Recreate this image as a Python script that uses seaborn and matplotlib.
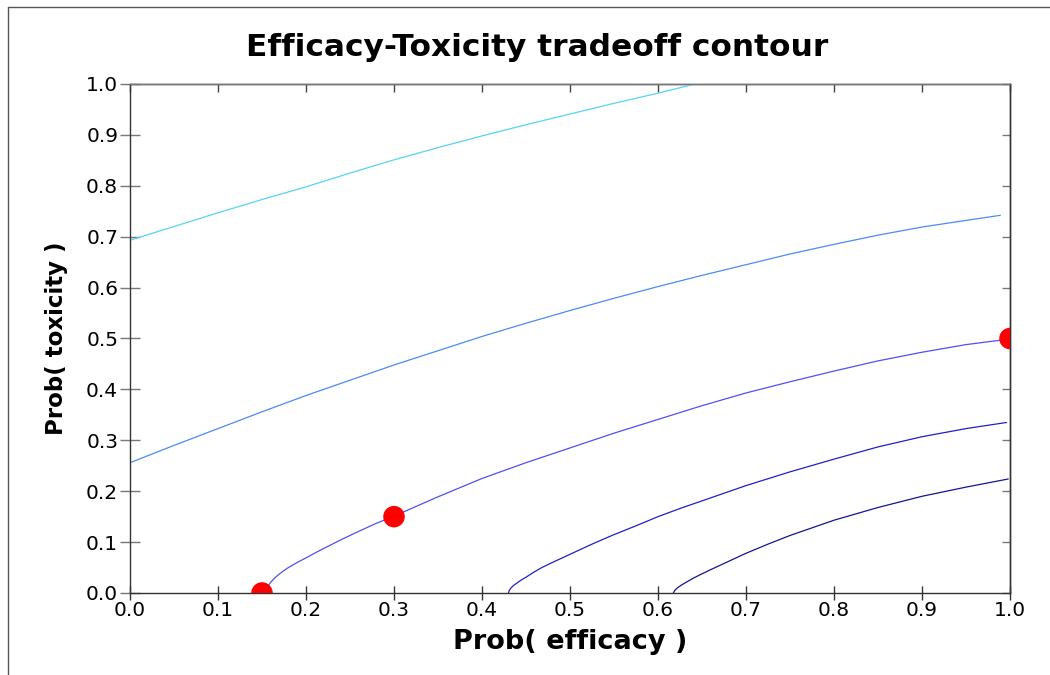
import numpy as np
import pandas as pd
import matplotlib.pyplot as plt
from matplotlib.lines import Line2D
import seaborn as sns

sns.set_style("white")
plt.rcParams["font.family"] = ["DejaVu Sans"]
plt.rcParams["text.color"] = "black"
plt.rcParams["axes.labelcolor"] = "black"

# contour lines (prob efficacy, prob toxicity)
c1_x = [0.0, 0.05, 0.1, 0.15, 0.2, 0.25, 0.3, 0.35, 0.4, 0.45, 0.5, 0.55, 0.6, 0.642]
c1_y = [0.693, 0.720, 0.747, 0.773, 0.798, 0.825, 0.851, 0.875, 0.898, 0.920, 0.941,
        0.962, 0.982, 1.0]

c2_x = [0.0, 0.05, 0.1, 0.15, 0.2, 0.25, 0.3, 0.35, 0.4, 0.45, 0.5, 0.55, 0.6, 0.65,
        0.7, 0.75, 0.8, 0.85, 0.9, 0.95, 0.989]
c2_y = [0.256, 0.290, 0.323, 0.356, 0.388, 0.418, 0.448, 0.476, 0.504, 0.530, 0.555,
        0.579, 0.602, 0.624, 0.645, 0.666, 0.685, 0.703, 0.719, 0.732, 0.742]

c3_x = [0.1515, 0.153, 0.156, 0.159, 0.163, 0.168, 0.174, 0.18, 0.19, 0.2, 0.215, 0.231,
        0.245, 0.261, 0.28, 0.3, 0.325, 0.35, 0.375, 0.4, 0.45, 0.5, 0.55, 0.6, 0.65,
        0.7, 0.75, 0.8, 0.85, 0.9, 0.95, 1.0]
c3_y = [0.0, 0.006, 0.012, 0.019, 0.027, 0.035, 0.043, 0.050, 0.060, 0.069, 0.083, 0.097,
        0.109, 0.122, 0.137, 0.151, 0.170, 0.189, 0.207, 0.225, 0.256, 0.285, 0.314,
        0.341, 0.368, 0.393, 0.415, 0.436, 0.456, 0.473, 0.488, 0.499]

c4_x = [0.43, 0.431, 0.433, 0.436, 0.44, 0.445, 0.45, 0.458, 0.468, 0.48, 0.49, 0.5,
        0.525, 0.549, 0.575, 0.6, 0.625, 0.65, 0.675, 0.7, 0.75, 0.8, 0.85, 0.9, 0.95,
        0.996]
c4_y = [0.0, 0.005, 0.010, 0.015, 0.020, 0.026, 0.031, 0.040, 0.050, 0.060, 0.068, 0.076,
        0.096, 0.114, 0.132, 0.150, 0.166, 0.181, 0.196, 0.211, 0.238, 0.263, 0.287,
        0.307, 0.323, 0.335]

c5_x = [0.6175, 0.619, 0.622, 0.627, 0.633, 0.64, 0.648, 0.66, 0.67, 0.685, 0.7, 0.725,
        0.75, 0.775, 0.8, 0.85, 0.9, 0.95, 0.998]
c5_y = [0.0, 0.005, 0.010, 0.016, 0.022, 0.029, 0.036, 0.046, 0.054, 0.066, 0.078, 0.096,
        0.113, 0.128, 0.143, 0.168, 0.190, 0.208, 0.224]

contour_colors = ['#55d4f6', '#4a8cf5', '#5050f2', '#2020c4', '#14148f']

# target doses
pts_eff = [0.15, 0.3, 1.0]
pts_tox = [0.0, 0.15, 0.5]

ticks = [0.0, 0.1, 0.2, 0.3, 0.4, 0.5, 0.6, 0.7, 0.8, 0.9, 1.0]
tick_labels = ['0.0', '0.1', '0.2', '0.3', '0.4', '0.5', '0.6', '0.7', '0.8', '0.9', '1.0']

curves = [(c1_x, c1_y), (c2_x, c2_y), (c3_x, c3_y), (c4_x, c4_y), (c5_x, c5_y)]
df = pd.concat([pd.DataFrame({'eff': cx, 'tox': cy, 'level': 'c%d' % (i + 1)})
                for i, (cx, cy) in enumerate(curves)], ignore_index=True)
pts = pd.DataFrame({'eff': pts_eff, 'tox': pts_tox})

fig = plt.figure(figsize=(10.5, 6.75), dpi=100)
ax = fig.add_axes([130 / 1050, 82 / 675, 880 / 1050, 509 / 675])

sns.lineplot(data=df, x='eff', y='tox', hue='level', palette=contour_colors,
             estimator=None, sort=False, legend=False, lw=0.9, ax=ax)
sns.scatterplot(data=pts, x='eff', y='tox', color='red', s=240, edgecolor='none',
                zorder=5, ax=ax)

ax.set_xlim(0, 1)
ax.set_ylim(0, 1)
ax.set_xticks(ticks)
ax.set_yticks(ticks)
ax.set_xticklabels(tick_labels)
ax.set_yticklabels(tick_labels)
ax.tick_params(axis='x', bottom=True, top=False, direction='inout', length=10,
               width=1, pad=1, labelsize=14.5, colors='#333333', labelcolor='black')
ax.tick_params(axis='y', left=True, right=False, direction='inout', length=15,
               width=1, pad=1, labelsize=14.5, colors='#777777', labelcolor='black')

# inner ticks along top and right edges
top = ax.secondary_xaxis('top')
top.set_xticks(ticks)
top.tick_params(direction='in', length=6, width=1, labeltop=False, colors='#444444')
right = ax.secondary_yaxis('right')
right.set_yticks(ticks)
right.tick_params(direction='in', length=6, width=1, labelright=False, colors='#777777')
for a in (ax, top, right):
    for spine in a.spines.values():
        spine.set_color('#333333')
        spine.set_linewidth(1)
for spine in ax.spines.values():
    spine.set_visible(True)
ax.spines['top'].set_color('#777777')

ax.set_xlabel('Prob( efficacy )', fontsize=19.5, fontweight='bold')
ax.set_ylabel('Prob( toxicity )', fontsize=16.5, fontweight='bold')
ax.xaxis.label.set_va('center')
ax.yaxis.label.set_va('center')
ax.xaxis.set_label_coords(0.5, -(640 - 591) / 509)
ax.yaxis.set_label_coords(-(130 - 57) / 880, 0.5)

fig.text(537 / 1050, 1 - 47 / 675, 'Efficacy-Toxicity tradeoff contour',
         fontsize=22.5, fontweight='bold', ha='center', va='center')

# outer frame of the original figure window
fig.add_artist(Line2D([8 / 1050, 8 / 1050], [0, 1 - 7 / 675], transform=fig.transFigure,
                      color='#555555', lw=1))
fig.add_artist(Line2D([8 / 1050, 1], [1 - 7 / 675, 1 - 7 / 675], transform=fig.transFigure,
                      color='#555555', lw=1))

fig.savefig('out.png', dpi=100)
plt.close(fig)
